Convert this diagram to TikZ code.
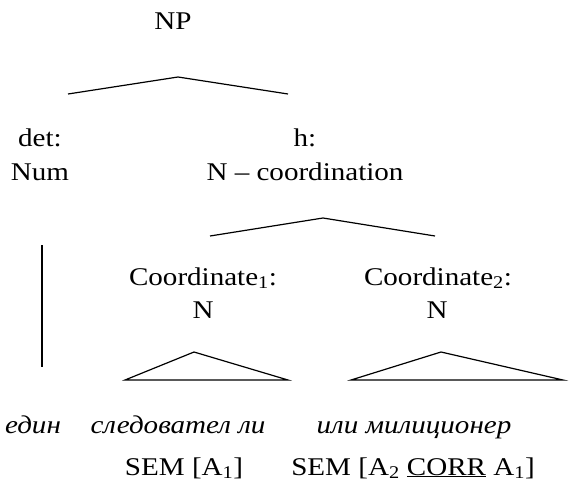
\documentclass[tikz,border=0pt]{standalone}
\usepackage{fontspec}
\setmainfont{Liberation Serif}[FakeStretch=1.14]
\begin{document}
\begin{tikzpicture}[x=1pt,y=-1pt,
  lbl/.style={anchor=base,inner sep=0pt,font=\fontsize{25.5}{30}\selectfont},
  word/.style={lbl,font=\fontsize{25.5}{30}\selectfont\itshape},
  branch/.style={line width=1.2pt,line join=miter}]
\useasboundingbox (0,0) rectangle (588,503);
% category labels
\node[lbl] (np) at (173,30) {NP};
\node[lbl] (det) at (40,146) {det:};
\node[lbl] (num) at (40,180) {Num};
\node[lbl] (h) at (305,146) {h:};
\node[lbl] (ncoord) at (305,180) {N -- coordination};
\node[lbl] (co1) at (203,285) {Coordinate\textsubscript{1}:};
\node[lbl] (n1) at (203,318) {N};
\node[lbl] (co2) at (438,285) {Coordinate\textsubscript{2}:};
\node[lbl] (n2) at (437,318) {N};
% words
\node[word] (edin) at (33,433) {един};
\node[word] (sled) at (178,433) {следовател ли};
\node[word] (mil) at (414,433) {или милиционер};
% semantics
\node[lbl] (sem1) at (184,475) {SEM [A\textsubscript{1}]};
\node[lbl] (sem2) at (413,475) {SEM [A\textsubscript{2} \underline{CORR} A\textsubscript{1}]};
% branch points
\coordinate (npT) at (178,77);
\coordinate (npL) at (68,94);
\coordinate (npR) at (288,94);
\coordinate (cT) at (323,218);
\coordinate (cL) at (210,236);
\coordinate (cR) at (435,236);
\coordinate (t1T) at (194,352);
\coordinate (t1L) at (125,380);
\coordinate (t1R) at (288,380);
\coordinate (t2T) at (441,352);
\coordinate (t2L) at (351,380);
\coordinate (t2R) at (563,380);
\coordinate (vT) at (42,245);
\coordinate (vB) at (42,367);
% branches
\draw[branch] (npL) -- (npT) -- (npR);
\draw[branch] (cL) -- (cT) -- (cR);
\draw[branch] (t1L) -- (t1T) -- (t1R) -- cycle;
\draw[branch] (t2L) -- (t2T) -- (t2R) -- cycle;
\draw[branch] (vT) -- (vB);
\end{tikzpicture}
\end{document}
